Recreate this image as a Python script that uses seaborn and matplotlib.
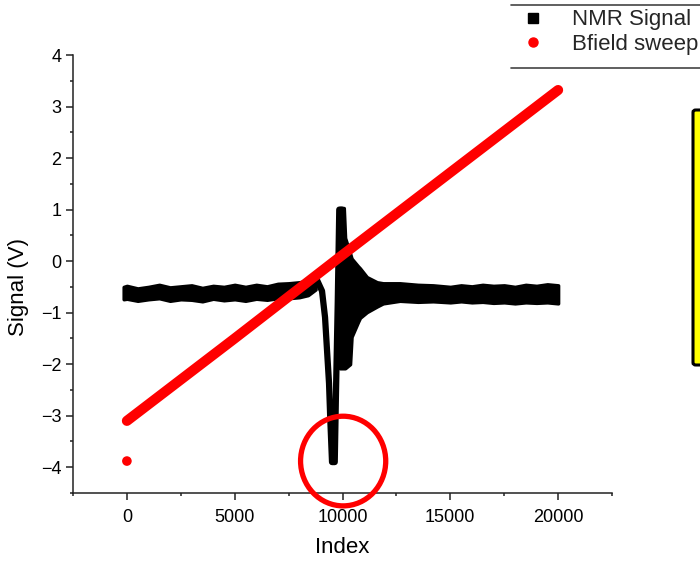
import matplotlib
matplotlib.use("Agg")
import matplotlib.pyplot as plt
import seaborn as sns
import pandas as pd
from matplotlib.ticker import MultipleLocator
from matplotlib.lines import Line2D
from matplotlib.patches import Ellipse, FancyBboxPatch

# ---------------- data ----------------
# NMR signal: noisy baseline band before the resonance (index, upper, lower)
base_idx = [-150, 0, 500, 1000, 1500, 2000, 2500, 3000, 3500, 4000, 4500,
            5000, 5500, 6000, 6500, 7000, 7500, 8000, 8400, 8750]
base_hi = [-0.50, -0.48, -0.53, -0.50, -0.46, -0.51, -0.49, -0.47, -0.52, -0.48, -0.50,
           -0.46, -0.50, -0.46, -0.49, -0.44, -0.43, -0.41, -0.38, -0.33]
base_lo = [-0.74, -0.73, -0.77, -0.74, -0.72, -0.77, -0.74, -0.75, -0.78, -0.73, -0.76,
           -0.74, -0.77, -0.73, -0.75, -0.72, -0.72, -0.70, -0.66, -0.55]

# NMR signal: resonance dip and spike (single trace)
dip_idx = [8500, 8820, 9050, 9190, 9282, 9375, 9430, 9514, 9640, 9700, 9780, 9850, 9980]
dip_val = [-0.45, -0.37, -0.58, -1.09, -1.73, -2.37, -3.03, -3.90, -3.90, -2.50, -0.80, 1.00, 1.00]

# NMR signal: ringing after the resonance (index, upper, lower)
ring_idx = [9880, 10060, 10120, 10350, 10420, 10720, 10810, 11130, 11600, 11880,
            12660, 13500, 14200, 15000, 15500, 16000, 16500, 17000, 17500, 18000,
            18500, 19000, 19500, 20000]
ring_hi = [1.03, 1.03, 0.45, 0.15, 0.05, -0.10, -0.14, -0.31, -0.41, -0.43,
           -0.43, -0.46, -0.47, -0.50, -0.47, -0.49, -0.46, -0.48, -0.47, -0.50,
           -0.46, -0.48, -0.45, -0.47]
ring_lo = [-2.08, -2.08, -2.08, -2.00, -1.47, -1.18, -1.10, -0.99, -0.88, -0.82,
           -0.77, -0.79, -0.78, -0.80, -0.78, -0.80, -0.79, -0.81, -0.80, -0.82,
           -0.80, -0.81, -0.80, -0.82]

# B-field sweep
sweep_idx = [0, 5000, 10000, 15000, 20000]
sweep_val = [-3.10, -1.50, 0.12, 1.72, 3.32]
outlier_idx = [0]
outlier_val = [-3.88]

legend_labels = ["NMR Signal", "Bfield sweep"]
x_label = "Index"
y_label = "Signal (V)"

# ---------------- figure ----------------
sns.set_theme(style="ticks")
plt.rcParams["font.family"] = ["Liberation Sans", "DejaVu Sans"]

fig = plt.figure(figsize=(7.0, 5.62), dpi=100)
ax = fig.add_axes([73 / 700, 69 / 562, (612 - 73) / 700, (493 - 55) / 562])

# NMR band segments
ax.fill_between(base_idx, base_lo, base_hi, color="black", lw=2.5, edgecolor="black", zorder=2)
ax.fill_between(ring_idx, ring_lo, ring_hi, color="black", lw=2.5, edgecolor="black", zorder=2)
dip_df = pd.DataFrame({"idx": dip_idx, "val": dip_val})
sns.lineplot(data=dip_df, x="idx", y="val", ax=ax, color="black", lw=4.5,
             sort=False, estimator=None, zorder=2)

# Bfield sweep
sweep_df = pd.DataFrame({"idx": sweep_idx, "val": sweep_val})
sns.lineplot(data=sweep_df, x="idx", y="val", ax=ax, color="#ff0000", lw=7.3,
             sort=False, estimator=None, zorder=3, solid_capstyle="round")
out_df = pd.DataFrame({"idx": outlier_idx, "val": outlier_val})
sns.scatterplot(data=out_df, x="idx", y="val", ax=ax, color="#ff0000", s=48,
                edgecolor="none", zorder=3)

# red circle annotation
circ = Ellipse((10030, -3.88), width=3950, height=1.74, fill=False,
               edgecolor="#ff0000", lw=3.8, zorder=4, clip_on=False)
ax.add_patch(circ)

# axes styling
ax.set_xlim(-2500, 22500)
ax.set_ylim(-4.5, 4)
ax.xaxis.set_major_locator(MultipleLocator(5000))
ax.xaxis.set_minor_locator(MultipleLocator(2500))
ax.yaxis.set_major_locator(MultipleLocator(1))
ax.yaxis.set_minor_locator(MultipleLocator(0.5))
sns.despine(ax=ax)
for s in ["left", "bottom"]:
    ax.spines[s].set_linewidth(1.1)
    ax.spines[s].set_color("#222222")
ax.tick_params(which="major", direction="out", length=5, width=1.1, color="#222222",
               labelsize=13, labelcolor="black")
ax.tick_params(which="minor", direction="out", length=2.5, width=1.1, color="#222222")
ax.tick_params(axis="x", which="major", pad=6.5)
ax.tick_params(axis="y", which="major", pad=3.5)
ax.set_xlabel(x_label, fontsize=16, color="black", labelpad=8)
ax.set_ylabel(y_label, fontsize=16, color="black")
ax.yaxis.set_label_coords(-0.082, 0.47)

# legend
handles = [Line2D([], [], marker="s", color="black", ls="none", markersize=6.5),
           Line2D([], [], marker="o", color="#ff0000", ls="none", markersize=6.5)]
fig.legend(handles, legend_labels, loc="upper left",
           bbox_to_anchor=(522 / 700, 1 - 9.5 / 562), bbox_transform=fig.transFigure,
           frameon=False, fontsize=16, handlelength=1.0, handletextpad=1.27,
           borderpad=0, borderaxespad=0, labelspacing=0.14)
for yy in [5, 68]:
    fig.add_artist(Line2D([511 / 700, 1.0], [1 - yy / 562, 1 - yy / 562],
                          transform=fig.transFigure, color="#444444", lw=1.2))

# partially visible yellow box at the right edge
box = FancyBboxPatch((693 / 700, 1 - 365 / 562), 0.2, (365 - 110) / 562,
                     boxstyle="round,pad=0,rounding_size=0.004",
                     transform=fig.transFigure, facecolor="#ffff00",
                     edgecolor="black", lw=2.2)
fig.patches.append(box)

fig.savefig("out.png", dpi=100)
